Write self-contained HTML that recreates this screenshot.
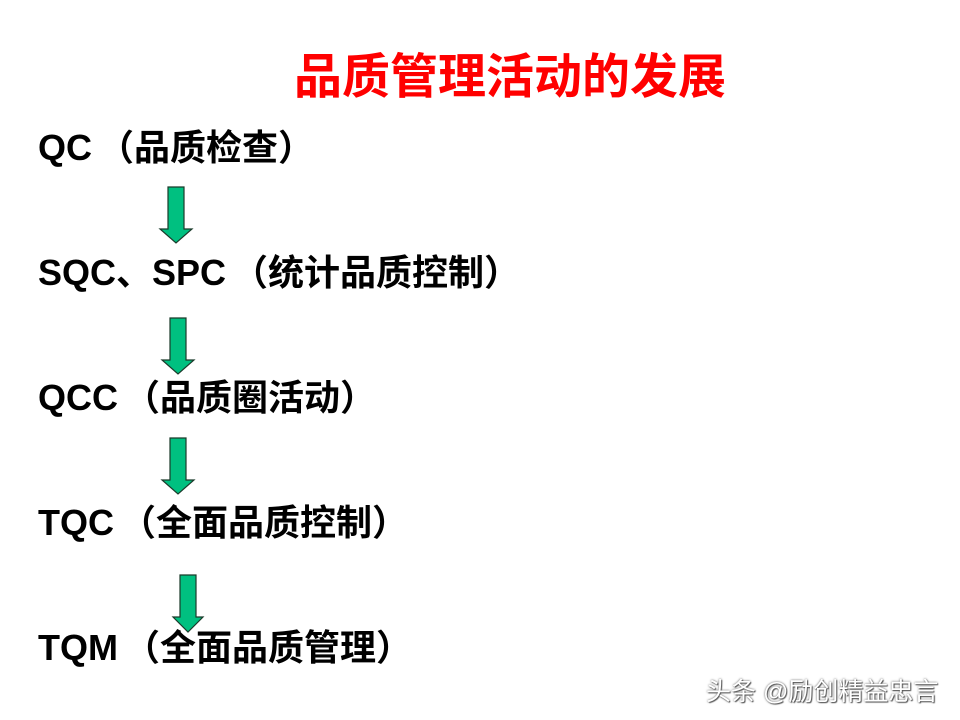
<!DOCTYPE html>
<html><head><meta charset="utf-8"><style>
body{margin:0;width:960px;height:720px;background:#fff;position:relative;overflow:hidden;font-family:"Liberation Sans","Noto Sans CJK SC",sans-serif}
.t{position:absolute;left:38px;font-size:36px;font-weight:bold;color:#000;line-height:40px;white-space:nowrap}
.t span{margin-right:6px}
.title{position:absolute;left:0;width:1020px;text-align:center;top:50px;font-size:48px;font-weight:bold;color:#f00;line-height:56px}
svg{position:absolute;left:0;top:0}
.wm{position:absolute;left:706px;top:672px;font-size:25px;color:#fff;text-shadow:0 0 2px #555,1px 1px 1px #555;white-space:nowrap}
</style></head><body>
<div class="title">品质管理活动的发展</div>
<div class="t" style="top:128px"><span>QC</span>（品质检查）</div>
<div class="t" style="top:253px"><span>SQC、SPC</span>（统计品质控制）</div>
<div class="t" style="top:378px"><span>QCC</span>（品质圈活动）</div>
<div class="t" style="top:503px"><span>TQC</span>（全面品质控制）</div>
<div class="t" style="top:628px"><span>TQM</span>（全面品质管理）</div>
<svg width="960" height="720">
<g fill="#00c080" stroke="#1a3a2a" stroke-width="1.2">
<polygon points="168,187 184,187 184,229 192,229 176,243 160,229 168,229"/>
<polygon points="170,318 186,318 186,360 194,360 178,374 162,360 170,360"/>
<polygon points="170,438 186,438 186,480 194,480 178,494 162,480 170,480"/>
<polygon points="180,575 196,575 196,617 203,617 188,632 173,617 180,617"/>
</g>
</svg>
<div class="wm">头条 @励创精益忠言</div>
</body></html>
